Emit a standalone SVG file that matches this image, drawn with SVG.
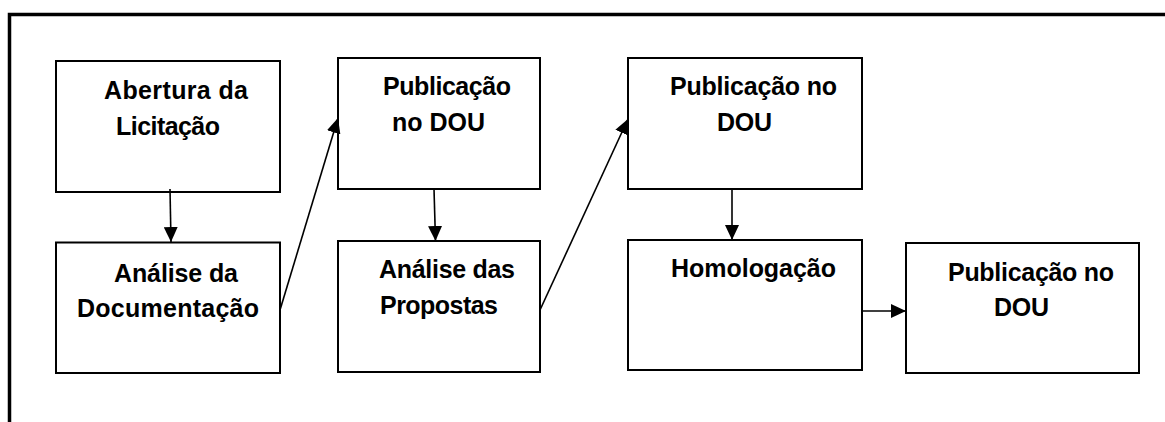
<svg xmlns="http://www.w3.org/2000/svg" width="1165" height="422" viewBox="0 0 1165 422">
<style>
.box{fill:#fff;stroke:#000;stroke-width:2}
.lbl{font-family:"Liberation Sans",Arial,sans-serif;font-weight:bold;font-size:25px;fill:#000}
.con{stroke:#000;stroke-width:1.6;fill:none;marker-end:url(#ah)}
.frame{stroke:#000;stroke-width:3.5;fill:none}
</style>
<defs>
<marker id="ah" viewBox="0 0 15 14" refX="15" refY="7" markerWidth="15" markerHeight="14" markerUnits="userSpaceOnUse" orient="auto">
<path d="M0,0 L15,7 L0,14 z" fill="#000"/>
</marker>
</defs>
<rect width="1165" height="422" fill="#fff"/>
<path class="frame" d="M9.5,422 V14.5 H1165"/>
<g id="n1">
<rect class="box" x="56" y="61" width="224" height="131"/>
<text class="lbl" x="104" y="99" textLength="144">Abertura da</text>
<text class="lbl" x="116" y="135" textLength="104">Licitação</text>
</g>
<g id="n2">
<rect class="box" x="56" y="242.5" width="224" height="130.5"/>
<text class="lbl" x="114" y="282" textLength="124">Análise da</text>
<text class="lbl" x="77" y="317" textLength="182">Documentação</text>
</g>
<g id="n3">
<rect class="box" x="338" y="58" width="202" height="131"/>
<text class="lbl" x="383" y="95" textLength="128">Publicação</text>
<text class="lbl" x="392" y="131" textLength="93">no DOU</text>
</g>
<g id="n4">
<rect class="box" x="338" y="241" width="202" height="131"/>
<text class="lbl" x="379" y="278" textLength="136">Análise das</text>
<text class="lbl" x="380" y="314" textLength="118">Propostas</text>
</g>
<g id="n5">
<rect class="box" x="628" y="58" width="234" height="131"/>
<text class="lbl" x="670" y="95" textLength="167">Publicação no</text>
<text class="lbl" x="717" y="131" textLength="55">DOU</text>
</g>
<g id="n6">
<rect class="box" x="628" y="240" width="234" height="130"/>
<text class="lbl" x="671" y="277" textLength="165">Homologação</text>
</g>
<g id="n7">
<rect class="box" x="906" y="243" width="233" height="130"/>
<text class="lbl" x="948" y="281" textLength="166">Publicação no</text>
<text class="lbl" x="994" y="316" textLength="55">DOU</text>
</g>
<g id="connectors">
<line class="con" x1="170" y1="189" x2="171" y2="242"/>
<line class="con" x1="280" y1="310" x2="338" y2="118"/>
<line class="con" x1="434" y1="189" x2="435.5" y2="241"/>
<line class="con" x1="540" y1="310" x2="628" y2="119"/>
<line class="con" x1="732" y1="189" x2="732" y2="240"/>
<line class="con" x1="862" y1="311" x2="906" y2="311"/>
</g>
</svg>
